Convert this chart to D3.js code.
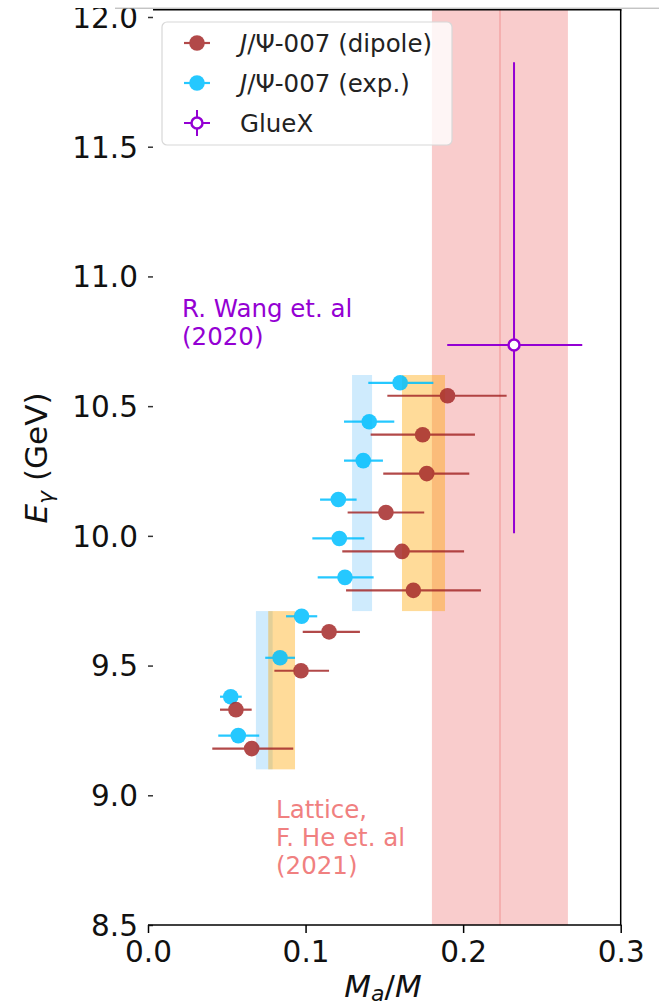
<!DOCTYPE html>
<html><head><meta charset="utf-8">
<script src="https://cdn.jsdelivr.net/npm/d3@7"></script>
<style>body{margin:0;background:#fff;} svg{display:block;font-family:"DejaVu Sans",sans-serif;}</style>
</head><body>
<script>
// ---- data ----
const xTicks = [0.0, 0.1, 0.2, 0.3];
const yTicks = [8.5, 9.0, 9.5, 10.0, 10.5, 11.0, 11.5, 12.0];

const expE  = [10.59, 10.44, 10.29, 10.14, 9.99, 9.84, 9.69, 9.53, 9.38, 9.23];
const expM  = [0.1600, 0.1404, 0.1366, 0.1208, 0.1214, 0.1250, 0.0975, 0.0838, 0.0525, 0.0573];
const expLo = [0.1398, 0.1244, 0.1244, 0.1092, 0.1043, 0.1077, 0.0876, 0.0744, 0.0457, 0.0446];
const expHi = [0.1811, 0.1563, 0.1491, 0.1324, 0.1373, 0.1432, 0.1074, 0.0933, 0.0595, 0.0706];

const dipE  = [10.54, 10.39, 10.24, 10.09, 9.94, 9.79, 9.63, 9.48, 9.33, 9.18];
const dipM  = [0.1901, 0.1743, 0.1769, 0.1510, 0.1612, 0.1684, 0.1149, 0.0971, 0.0558, 0.0658];
const dipLo = [0.1519, 0.1413, 0.1493, 0.1267, 0.1233, 0.1257, 0.0982, 0.0802, 0.0457, 0.0408];
const dipHi = [0.2276, 0.2075, 0.2039, 0.1753, 0.2006, 0.2113, 0.1345, 0.1149, 0.0658, 0.0922];

const gluexM = [0.2323], gluexMLo = [0.1899], gluexMHi = [0.2756];
const gluexE = [10.736], gluexELo = [10.01], gluexEHi = [11.826];

const latticeBand = [0.1802, 0.2665];
const latticeCenter = [0.2234];

const bandELo = [9.10, 9.71];
const bandEHi = [9.71, 10.62];
const expBandLo = [0.0685, 0.1295], expBandHi = [0.0791, 0.1422];
const dipBandLo = [0.0763, 0.1612], dipBandHi = [0.0933, 0.1885];

const legendLabels = ["dipole", "exp.", "GlueX"];

// ---- layout ----
const W = 659, H = 1008;
const L = 148, R = 620.7, T = 17, B = 925;
const x = d3.scaleLinear().domain([0, 0.3]).range([L, R]);
const y = d3.scaleLinear().domain([8.5, 12.0]).range([B, T]);

const svg = d3.select("body").append("svg").attr("width", W).attr("height", H);

const cRed = "rgb(165,42,42)", cBlue = "rgb(0,191,255)", cPurple = "rgb(148,0,211)";
const cCoral = "rgb(240,128,128)";

// lattice band
svg.append("rect").attr("x", x(latticeBand[0])).attr("width", x(latticeBand[1]) - x(latticeBand[0]))
  .attr("y", 9.5).attr("height", B - 9.5).attr("fill", cCoral).attr("fill-opacity", 0.4);
svg.append("line").attr("x1", x(latticeCenter[0])).attr("x2", x(latticeCenter[0]))
  .attr("y1", 9.5).attr("y2", B).attr("stroke", cCoral).attr("stroke-opacity", 0.5).attr("stroke-width", 1.5);

// exp / dipole bands
bandELo.forEach((e, i) => {
  svg.append("rect").attr("x", x(expBandLo[i])).attr("width", x(expBandHi[i]) - x(expBandLo[i]))
    .attr("y", y(bandEHi[i])).attr("height", y(bandELo[i]) - y(bandEHi[i]))
    .attr("fill", "rgb(135,206,250)").attr("fill-opacity", 0.4);
  svg.append("rect").attr("x", x(dipBandLo[i])).attr("width", x(dipBandHi[i]) - x(dipBandLo[i]))
    .attr("y", y(bandEHi[i])).attr("height", y(bandELo[i]) - y(bandEHi[i]))
    .attr("fill", "rgb(255,165,0)").attr("fill-opacity", 0.4);
});

// error bars + points
function series(E, M, Lo, Hi, color) {
  const g = svg.append("g").attr("opacity", 0.85);
  E.forEach((e, i) => {
    g.append("line").attr("x1", x(Lo[i])).attr("x2", x(Hi[i])).attr("y1", y(e)).attr("y2", y(e))
      .attr("stroke", color).attr("stroke-width", 2.2);
    g.append("circle").attr("cx", x(M[i])).attr("cy", y(e)).attr("r", 7.8).attr("fill", color);
  });
}
series(expE, expM, expLo, expHi, cBlue);
series(dipE, dipM, dipLo, dipHi, cRed);

// GlueX
gluexE.forEach((e, i) => {
  svg.append("line").attr("x1", x(gluexMLo[i])).attr("x2", x(gluexMHi[i])).attr("y1", y(e)).attr("y2", y(e))
    .attr("stroke", cPurple).attr("stroke-width", 2);
  svg.append("line").attr("x1", x(gluexM[i])).attr("x2", x(gluexM[i])).attr("y1", y(gluexELo[i])).attr("y2", y(gluexEHi[i]))
    .attr("stroke", cPurple).attr("stroke-width", 2);
  svg.append("circle").attr("cx", x(gluexM[i])).attr("cy", y(e)).attr("r", 5.5)
    .attr("fill", "#fff").attr("stroke", cPurple).attr("stroke-width", 2.5);
});

// annotations
const tw = svg.append("text").attr("fill", cPurple).attr("font-size", 24.5);
tw.append("tspan").attr("x", 182).attr("y", 317).text("R. Wang et. al");
tw.append("tspan").attr("x", 182).attr("y", 345).text("(2020)");
const tl = svg.append("text").attr("fill", cCoral).attr("font-size", 24.5);
tl.append("tspan").attr("x", 276).attr("y", 818).text("Lattice,");
tl.append("tspan").attr("x", 276).attr("y", 846).text("F. He et. al");
tl.append("tspan").attr("x", 276).attr("y", 874).text("(2021)");

// axes
const ax = svg.append("g").attr("transform", `translate(0,${B})`)
  .call(d3.axisBottom(x).tickValues(xTicks).tickFormat(d3.format(".1f")).tickSize(8).tickPadding(8));
ax.select(".domain").remove();
ax.selectAll("line").attr("stroke", "#000").attr("stroke-width", 1.5);
ax.selectAll("text").attr("font-size", 29.5).attr("font-family", "DejaVu Sans").attr("fill", "#111");

const ay = svg.append("g").attr("transform", `translate(${L},0)`)
  .call(d3.axisLeft(y).tickValues(yTicks).tickFormat(d3.format(".1f")).tickSize(0).tickPadding(10));
ay.select(".domain").remove();
ay.selectAll("text").attr("font-size", 29.5).attr("font-family", "DejaVu Sans").attr("fill", "#111").attr("dy", "0.35em");
ay.selectAll(".tick").append("line").attr("x1", 0).attr("x2", 5).attr("stroke", "#333").attr("stroke-width", 1.5);

// spines
svg.append("line").attr("x1", L).attr("x2", R + 0.75).attr("y1", B).attr("y2", B).attr("stroke", "#000").attr("stroke-width", 1.5);
svg.append("line").attr("x1", R).attr("x2", R).attr("y1", 9.5).attr("y2", B).attr("stroke", "#000").attr("stroke-width", 1.5);
svg.append("line").attr("x1", 153).attr("x2", R + 0.75).attr("y1", 9.75).attr("y2", 9.75).attr("stroke", "#000").attr("stroke-width", 1.5);

// crop edge at top
svg.append("rect").attr("x", 0).attr("y", 0).attr("width", W).attr("height", 8).attr("fill", "#fff");
svg.append("line").attr("x1", 115).attr("x2", W).attr("y1", 8.2).attr("y2", 8.2).attr("stroke", "#aaa").attr("stroke-width", 1);

// axis labels
const xl = svg.append("text").attr("x", 383).attr("y", 997).attr("text-anchor", "middle").attr("font-size", 31).attr("fill", "#111");
xl.append("tspan").attr("font-style", "italic").text("M");
xl.append("tspan").attr("font-style", "italic").attr("font-size", 22).attr("dy", 4).text("a");
xl.append("tspan").attr("dy", -4).text("/");
xl.append("tspan").attr("font-style", "italic").text("M");

const yl = svg.append("text").attr("transform", "translate(47,458) rotate(-90)").attr("text-anchor", "middle").attr("font-size", 31).attr("fill", "#111");
yl.append("tspan").attr("font-style", "italic").text("E");
yl.append("tspan").attr("font-style", "italic").attr("font-size", 22).attr("dy", 6).text("γ");
yl.append("tspan").attr("dy", -6).text(" (GeV)");

// legend
const lg = svg.append("g");
lg.append("rect").attr("x", 162).attr("y", 22).attr("width", 290).attr("height", 123).attr("rx", 5)
  .attr("fill", "#fff").attr("fill-opacity", 0.8).attr("stroke", "#d8d8d8").attr("stroke-width", 1.2);
const rowY = [43, 83, 123];
const colors = [cRed, cBlue, cPurple];
legendLabels.forEach((lab, i) => {
  const cy = rowY[i];
  const g = lg.append("g");
  if (i < 2) {
    g.attr("opacity", 0.85);
    g.append("line").attr("x1", 184).attr("x2", 210).attr("y1", cy).attr("y2", cy).attr("stroke", colors[i]).attr("stroke-width", 2.2);
    g.append("circle").attr("cx", 197).attr("cy", cy).attr("r", 7.8).attr("fill", colors[i]);
  } else {
    g.append("line").attr("x1", 184).attr("x2", 210).attr("y1", cy).attr("y2", cy).attr("stroke", cPurple).attr("stroke-width", 2);
    g.append("line").attr("x1", 197).attr("x2", 197).attr("y1", cy - 13).attr("y2", cy + 13).attr("stroke", cPurple).attr("stroke-width", 2);
    g.append("circle").attr("cx", 197).attr("cy", cy).attr("r", 5.5).attr("fill", "#fff").attr("stroke", cPurple).attr("stroke-width", 2.5);
  }
  const t = lg.append("text").attr("x", 240).attr("y", cy + 9).attr("font-size", 24.5).attr("fill", "#222");
  if (i < 2) {
    t.append("tspan").attr("font-style", "italic").text("J");
    t.append("tspan").text("/Ψ-007 (" + lab + ")");
  } else {
    t.text(lab);
  }
});
</script>
</body></html>
